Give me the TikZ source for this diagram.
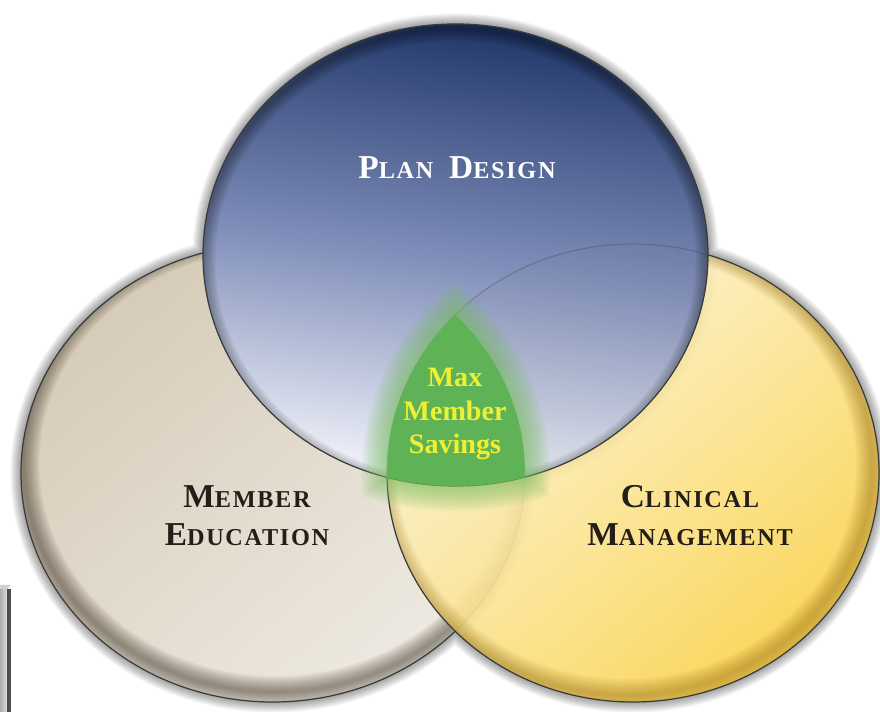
\documentclass[tikz,border=0pt]{standalone}
\usepackage{fontspec}
\setmainfont{Liberation Serif}
\newfontfamily\capsfont[LetterSpace=7]{Liberation Serif}
\usepackage{xcolor}
\definecolor{plannavy}{RGB}{32,54,104}
\definecolor{planmid}{RGB}{125,140,184}
\definecolor{planlight}{RGB}{246,247,252}
\definecolor{eduupper}{RGB}{214,203,184}
\definecolor{edulower}{RGB}{238,234,226}
\definecolor{clinlight}{RGB}{253,247,222}
\definecolor{clingold}{RGB}{250,210,75}
\definecolor{savgreen}{RGB}{96,178,86}
\definecolor{glowgreen}{RGB}{120,190,95}
\definecolor{maxyellow}{RGB}{240,240,50}
\definecolor{rimgray}{RGB}{55,60,58}
\definecolor{capdark}{RGB}{35,30,25}
\definecolor{goldshadow}{RGB}{150,110,20}
\newcommand\smcap[2]{#1{\fontsize{13.8}{15}\selectfont#2}}

\begin{document}
\begin{tikzpicture}[
  rim/.style={draw=rimgray, line width=0.7pt},
  captext/.style={text=capdark, font=\capsfont\bfseries\fontsize{19}{21.6}\selectfont, align=center},
  savtext/.style={text=maxyellow, font=\bfseries\fontsize{16}{19}\selectfont, align=center}
]
\useasboundingbox (0,0) rectangle (17.6,14.24);
\fill[white] (0,0) rectangle (17.6,14.24);

\coordinate (planc) at (9.11,9.14);
\coordinate (educ) at (5.46,4.78);
\coordinate (clinc) at (12.66,4.78);

\foreach \w in {1,...,10}
\draw[black, opacity=0.04, line width=\w*1.2pt] 
(educ) ellipse [x radius=5.04, y radius=4.58]
(clinc) ellipse [x radius=4.92, y radius=4.58]
(planc) ellipse [x radius=5.05, y radius=4.62];

\shade[top color=eduupper, bottom color=edulower, shading angle=40] (educ) ellipse [x radius=5.04, y radius=4.58];
\begin{scope}
\clip (educ) ellipse [x radius=5.04, y radius=4.58];
\foreach \w in {2,4,...,18}
\draw[black!80!brown, opacity=0.06, line width=\w pt] ([shift={(0.05,0.2)}]educ) ellipse [x radius=5.04, y radius=4.58];
\end{scope}
\draw[rim] (educ) ellipse [x radius=5.04, y radius=4.58];

\shade[top color=clinlight, bottom color=clingold, shading angle=40, opacity=0.9] (clinc) ellipse [x radius=4.92, y radius=4.58];
\begin{scope}
\clip (clinc) ellipse [x radius=4.92, y radius=4.58];
\foreach \w in {2,4,...,18}
\draw[goldshadow, opacity=0.06, line width=\w pt] ([shift={(-0.14,0.14)}]clinc) ellipse [x radius=4.92, y radius=4.58];
\end{scope}
\draw[rim] (clinc) ellipse [x radius=4.92, y radius=4.58];

\shade[top color=plannavy, bottom color=planlight, middle color=planmid, shading angle=-8] (planc) ellipse [x radius=5.05, y radius=4.62];
\begin{scope}
\clip (planc) ellipse [x radius=5.05, y radius=4.62];
\fill[gray, opacity=0.07] (clinc) ellipse [x radius=4.92, y radius=4.58];
\foreach \w in {2,4,...,14}
\draw[black, opacity=0.05, line width=\w pt] ([shift={(0,-0.1)}]planc) ellipse [x radius=5.05, y radius=4.62];
\draw[rimgray, opacity=0.3, line width=0.6pt] (clinc) ellipse [x radius=4.92, y radius=4.58];
\end{scope}
\draw[rim] (planc) ellipse [x radius=5.05, y radius=4.62];

\foreach \d in {0.05,0.1,...,0.55}
{
\begin{scope}
\clip (planc) ellipse [x radius=5.05+\d, y radius=4.62+\d];
\clip (educ) ellipse [x radius=5.04+\d, y radius=4.58+\d];
\fill[glowgreen, opacity=0.085] (clinc) ellipse [x radius=4.92+\d, y radius=4.58+\d];
\end{scope}
}
\begin{scope}
\clip (planc) ellipse [x radius=5.05, y radius=4.62];
\clip (educ) ellipse [x radius=5.04, y radius=4.58];
\fill[savgreen] (clinc) ellipse [x radius=4.92, y radius=4.58];
\end{scope}

\node[captext, text=white] (plan) at (9.14,10.88) {\smcap{P}{LAN}\hspace{0.15em} \smcap{D}{ESIGN}};
\node[captext] (member) at (4.94,3.92) {\smcap{M}{EMBER}\\\smcap{E}{DUCATION}};
\node[captext] (clinical) at (13.8,3.92) {\smcap{C}{LINICAL}\\\smcap{M}{ANAGEMENT}};
\node[savtext] (savings) at (9.1,5.96) {Max\\Member\\Savings};

\shade[left color=gray!65, right color=gray!25] (0,0) rectangle (0.15,2.46);
\fill[gray!35] (0,2.46) -- (0.15,2.46) -- (0.22,2.54) -- (0,2.54) -- cycle;
\fill[black!70] (0.15,0) rectangle (0.22,2.46);

\end{tikzpicture}
\end{document}
